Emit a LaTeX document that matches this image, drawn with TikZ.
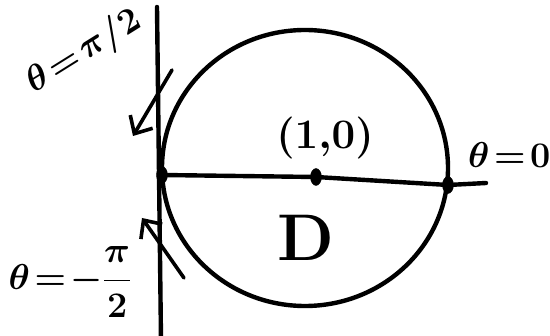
\RequirePackage{fix-cm}
\documentclass[tikz,border=0pt]{standalone}
\usepackage{amsmath}
\usepackage{tikz}
\usetikzlibrary{arrows.meta, positioning, shapes.geometric}

\begin{document}
\begin{tikzpicture}[
  x=1pt, y=-1pt,
  ink/.style={line width=4.4pt, line cap=round, line join=round},
  dot/.style={draw, fill, ellipse, inner sep=0pt, minimum width=11pt,
              minimum height=17pt},
  arr/.style={ink, line width=3.6pt, -{Straight Barb[length=14pt, width=26pt, line width=3.6pt]}},
  lab/.style={inner sep=0pt}
]
\useasboundingbox (0,0) rectangle (550,336);
\fill[white] (0,0) rectangle (550,336);

% vertical axis
\coordinate (vtop) at (157,7);
\coordinate (vbot) at (161,340);
\draw[ink] (vtop) -- (vbot);

% the disc
\draw[ink] (305,168) ellipse [x radius=143, y radius=138];

% points on the diameter
\node[dot] (lp) at (162,175) {};
\node[dot] (cp) at (316,177) {};
\node[dot] (rp) at (448,185) {};
\coordinate (hend) at (486,183);
\draw[ink] (lp.center) -- (cp.center) -- (rp.center) -- (hend);

% labels
\node[lab, font=\fontsize{42}{46}\selectfont\boldmath] (cl) at (325,138) {$(1,\!0)$};
\node[lab, font=\fontsize{66}{70}\selectfont\bfseries] (dl) at (306,238) {D};
\node[lab, font=\fontsize{36}{40}\selectfont\boldmath, anchor=west] (t0) at (468,155)
  {$\theta\!=\!0$};
\node[lab, font=\fontsize{36}{40}\selectfont\boldmath, rotate=32] (tp) at (84,52)
  {$\theta\!=\!\pi/2$};
\node[lab, font=\fontsize{36}{40}\selectfont\boldmath] (tm) at (70,282)
  {$\theta\!=\!-\dfrac{\pi}{2}$};

% arrows toward the axis
\coordinate (ua) at (172,70);
\coordinate (ub) at (133,136);
\draw[arr] (ua) -- (ub);
\coordinate (la) at (184,278);
\coordinate (lb) at (142,218);
\draw[arr] (la) -- (lb);
\end{tikzpicture}
\end{document}
